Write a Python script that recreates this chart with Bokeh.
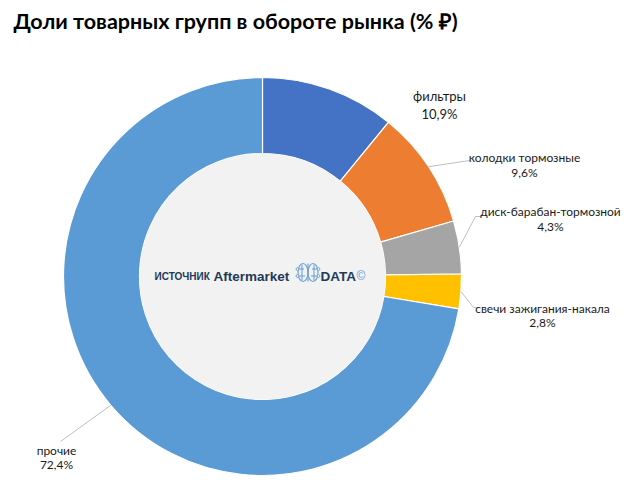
import numpy as np
from bokeh.plotting import figure
from bokeh.models import Range1d, ColumnDataSource
from bokeh.core.properties import value
from bokeh.embed import file_html
from bokeh.resources import INLINE

# ---- data ----
categories = ["фильтры", "колодки тормозные", "диск-барабан-тормозной",
              "свечи зажигания-накала", "прочие"]
shares = [10.9, 9.6, 4.3, 2.8, 72.4]
share_labels = ["10,9%", "9,6%", "4,3%", "2,8%", "72,4%"]
colors = ["#4472C4", "#ED7D31", "#A5A5A5", "#FFC000", "#5B9BD5"]
title_text = "Доли товарных групп в обороте рынка (% ₽)"

W, H = 624, 480
def sx(x):  # screen px -> data
    return x
def sy(y):
    return H - y

p = figure(width=W, height=H, x_range=Range1d(0, W), y_range=Range1d(0, H),
           output_backend="svg", toolbar_location=None, min_border=0)
p.axis.visible = False
p.grid.visible = False
p.outline_line_color = None
p.background_fill_color = "white"
p.border_fill_color = "white"

cx, cy = sx(262), sy(276)
R_out, R_in = 199, 123

vals = np.array(shares, dtype=float)
frac = vals / vals.sum()
cum = np.concatenate([[0], np.cumsum(frac)])
start = np.pi / 2 - cum[:-1] * 2 * np.pi
end = np.pi / 2 - cum[1:] * 2 * np.pi
mid = (cum[:-1] + cum[1:]) / 2

src = ColumnDataSource(dict(start=start, end=end, color=colors))
p.annular_wedge(x=cx, y=cy, inner_radius=R_in, outer_radius=R_out,
                start_angle="start", end_angle="end", direction="clock",
                fill_color="color", line_color="white", line_width=1.2, source=src)
p.circle(x=[cx], y=[cy], radius=R_in, fill_color="#F2F2F2", line_color=None)

# label positions (screen px)
lab_pos = [(439, 95, 113), (524, 157, 172), (550, 211, 226), (542, 308, 322), (56, 450, 464)]
lab_size = ["13px", "12px", "12px", "12px", "12px"]
# leader ends (screen px) : elbow and end
leader = {1: [(469, 160), (470, 160)], 2: [(475, 216), (481, 216)],
          3: [(473, 307), (479, 307)], 4: [(60, 441), (60, 441)]}
for i, pts in leader.items():
    a = mid[i] * 2 * np.pi
    x0 = cx + R_out * np.sin(a)
    y0 = cy + R_out * np.cos(a)
    xs = [x0] + [sx(px) for px, _ in pts]
    ys = [y0] + [sy(py) for _, py in pts]
    p.line(xs, ys, line_color="#BFBFBF", line_width=1)

for i, (lx, ly1, ly2) in enumerate(lab_pos):
    p.text(x=[sx(lx)], y=[sy(ly1)], text=[categories[i]], text_font=value("Lato"),
           text_font_size=lab_size[i], text_align="center", text_baseline="middle",
           text_color="#1A1A1A")
    p.text(x=[sx(lx)], y=[sy(ly2)], text=[share_labels[i]], text_font=value("Lato"),
           text_font_size=lab_size[i], text_align="center", text_baseline="middle",
           text_color="#1A1A1A")

# title
p.text(x=[sx(13)], y=[sy(20)], text=[title_text], text_font=value("Lato"),
       text_font_size="21.5px", text_font_style="bold", text_align="left",
       text_baseline="middle", text_color="black")

# center logo
navy = "#1E3A56"
p.text(x=[sx(154)], y=[sy(276)], text=["ИСТОЧНИК"], text_font=value("Liberation Sans"),
       text_font_size="10px", text_font_style="bold", text_align="left",
       text_baseline="middle", text_color=navy)
p.text(x=[sx(213)], y=[sy(276)], text=["Aftermarket"], text_font=value("Liberation Sans"),
       text_font_size="13.5px", text_font_style="bold", text_align="left",
       text_baseline="middle", text_color=navy)
p.text(x=[sx(320)], y=[sy(276)], text=["DATA"], text_font=value("Liberation Sans"),
       text_font_size="13.5px", text_font_style="bold", text_align="left",
       text_baseline="middle", text_color=navy)
p.text(x=[sx(356)], y=[sy(275)], text=["©"], text_font=value("Liberation Sans"),
       text_font_size="12px", text_align="left",
       text_baseline="middle", text_color="#5B9BD5")
# brain icon
bx, by = sx(307.5), sy(272)
icon = "#6FA3D6"
p.ellipse(x=[bx - 5, bx + 5], y=[by, by], width=10, height=18, fill_color=None,
          line_color=icon, line_width=1.2)
p.segment(x0=[bx, bx - 10, bx + 10, bx - 10, bx + 10, bx - 6, bx + 6],
          y0=[by - 9, by + 3.5, by + 3.5, by - 3.5, by - 3.5, by + 8, by + 8],
          x1=[bx, bx - 4, bx + 4, bx - 3, bx + 3, bx - 6, bx + 6],
          y1=[by + 9, by + 3.5, by + 3.5, by - 3.5, by - 3.5, by - 8, by - 8],
          line_color=icon, line_width=1.1)
p.circle(x=[bx - 10.5, bx + 10.5, bx - 10.5, bx + 10.5], y=[by + 3.5, by + 3.5, by - 3.5, by - 3.5],
         radius=1.4, fill_color="white", line_color=icon, line_width=1)

open("out.html", "w").write(file_html(p, INLINE))
